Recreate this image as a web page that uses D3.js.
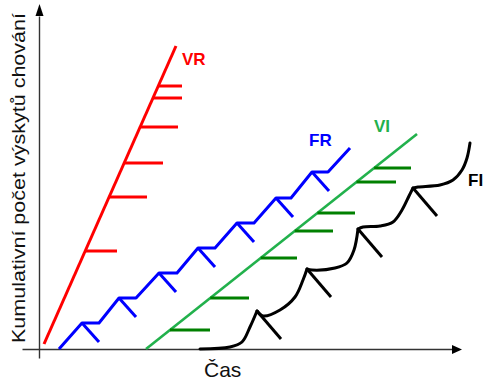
<!DOCTYPE html>
<html>
<head>
<meta charset="utf-8">
<script src="https://cdn.jsdelivr.net/npm/d3@7"></script>
<style>
  html, body { margin: 0; padding: 0; background: #fff; }
  svg { display: block; }
  text { font-family: "Liberation Sans", Arial, sans-serif; }
</style>
</head>
<body>
<script>
// ---- data (time units / cumulative responses) ----
const seriesNames = ["VR", "FR", "VI", "FI"];

// VR: steady steep line with irregular reinforcements
const vrTime = [4, 136];
const vrCount = [6, 304];
const vrReinfCount = [99, 153, 187, 223, 252, 264];
const vrReinfEnd = [77, 107, 123, 138, 142, 142];

// FR: run - pause staircase
const frStartTime = 19, frStartCount = 1;
const frPeakTime = [42, 79, 119, 158, 197, 236, 272];
const frPeakCount = [27, 52, 77, 102, 127, 152, 178];
const frPauseEnd = [59, 96, 137, 175, 214, 251, 288];
const frEndTime = 310, frEndCount = 202;

// VI: steady moderate line with irregular reinforcements
const viTime = [106, 377];
const viCount = [1, 216];
const viReinfCount = [20, 52, 92, 119, 137, 168, 182];
const viReinfEnd = [170, 209, 257, 293, 315, 356, 371];

// FI: scalloped curve
const fiTime  = [160, 190, 202, 210, 217, 223, 240, 255, 263, 267, 272, 295, 307, 314, 318, 323, 340, 353, 362, 369, 373, 378, 400, 413, 422, 427, 430];
const fiCount = [1, 3, 8, 23, 39, 34, 40, 53, 70, 81, 80, 82, 87, 100, 121, 123, 124, 128, 140, 154, 162, 163, 165, 170, 180, 192, 207];
const fiPeakIdx = [4, 9, 14, 20];

const W = 492, H = 383;
const svg = d3.select("body").append("svg").attr("width", W).attr("height", H);

const x = d3.scaleLinear().domain([0, 430]).range([40, 470]);
const y = d3.scaleLinear().domain([0, 345]).range([350, 5]);

const colors = { VR: "#ff0000", FR: "#0000ff", VI: "#22b14c", VItick: "#008000", FI: "#000000" };

// ---- axes ----
const axisColor = "#333";
const xAxisScale = x.copy().domain([-18, 414]).range([x(-18), x(414)]);
const yAxisScale = y.copy().domain([-8, 334]).range([y(-8), y(334)]);
const gx = svg.append("g").attr("transform", `translate(0,${y(0) - 1})`)
  .call(d3.axisBottom(xAxisScale).tickValues([]).tickSizeOuter(0));
const gy = svg.append("g").attr("transform", `translate(${x(0) - 1},0)`)
  .call(d3.axisLeft(yAxisScale).tickValues([]).tickSizeOuter(0));
[gx, gy].forEach(g => g.select(".domain").attr("stroke", axisColor).attr("stroke-width", 1.4));

// arrowheads
const ax0 = x(0) - 0.5, ay0 = y(0) - 0.5;
svg.append("path")
  .attr("d", `M${x(422)},${ay0} L${x(412)},${ay0 - 4.5} L${x(412)},${ay0 + 4.5} Z`)
  .attr("fill", "#000");
svg.append("path")
  .attr("d", `M${ax0},${y(346)} L${ax0 - 4},${y(334)} L${ax0 + 4},${y(334)} Z`)
  .attr("fill", "#000");

// axis titles
svg.append("text")
  .attr("transform", `translate(25,${(343 + 13) / 2}) rotate(-90)`)
  .attr("text-anchor", "middle")
  .attr("font-size", 19)
  .attr("textLength", 330)
  .attr("lengthAdjust", "spacingAndGlyphs")
  .attr("fill", "#111")
  .text("Kumulativní počet výskytů chování");
svg.append("text")
  .attr("x", 204).attr("y", 377)
  .attr("font-size", 21)
  .attr("fill", "#111")
  .text("Čas");

const line = d3.line().x(d => x(d[0])).y(d => y(d[1]));
const lw = 3;

// ---- VR ----
const vrAt = c => vrTime[0] + (c - vrCount[0]) * (vrTime[1] - vrTime[0]) / (vrCount[1] - vrCount[0]);
svg.append("path").attr("d", line(vrTime.map((t, i) => [t, vrCount[i]])))
  .attr("fill", "none").attr("stroke", colors.VR).attr("stroke-width", lw);
svg.selectAll(".vrt").data(vrReinfCount).enter().append("line")
  .attr("x1", c => x(vrAt(c))).attr("x2", (c, i) => x(vrReinfEnd[i]))
  .attr("y1", c => y(c)).attr("y2", c => y(c))
  .attr("stroke", colors.VR).attr("stroke-width", lw);

// ---- VI ----
const viAt = c => viTime[0] + (c - viCount[0]) * (viTime[1] - viTime[0]) / (viCount[1] - viCount[0]);
svg.append("path").attr("d", line(viTime.map((t, i) => [t, viCount[i]])))
  .attr("fill", "none").attr("stroke", colors.VI).attr("stroke-width", 2.6);
svg.selectAll(".vit").data(viReinfCount).enter().append("line")
  .attr("x1", c => x(viAt(c))).attr("x2", (c, i) => x(viReinfEnd[i]))
  .attr("y1", c => y(c)).attr("y2", c => y(c))
  .attr("stroke", colors.VItick).attr("stroke-width", lw);

// ---- FR ----
const frPts = [[frStartTime, frStartCount]];
frPeakTime.forEach((t, i) => { frPts.push([t, frPeakCount[i]]); frPts.push([frPauseEnd[i], frPeakCount[i]]); });
frPts.push([frEndTime, frEndCount]);
svg.append("path").attr("d", line(frPts))
  .attr("fill", "none").attr("stroke", colors.FR).attr("stroke-width", lw)
  .attr("stroke-linejoin", "round");
svg.selectAll(".frm").data(frPeakTime).enter().append("line")
  .attr("x1", t => x(t)).attr("y1", (t, i) => y(frPeakCount[i]))
  .attr("x2", t => x(t + 17)).attr("y2", (t, i) => y(frPeakCount[i] - 19))
  .attr("stroke", colors.FR).attr("stroke-width", lw);

// ---- FI ----
const fiPts = fiTime.map((t, i) => [t, fiCount[i]]);
const cuts = [0, ...fiPeakIdx, fiPts.length - 1];
const fiLine = d3.line().x(d => x(d[0])).y(d => y(d[1])).curve(d3.curveCatmullRom.alpha(0.5));
for (let k = 0; k < cuts.length - 1; k++) {
  svg.append("path").attr("d", fiLine(fiPts.slice(cuts[k], cuts[k + 1] + 1)))
    .attr("fill", "none").attr("stroke", colors.FI).attr("stroke-width", lw)
    .attr("stroke-linejoin", "round").attr("stroke-linecap", "round");
}
svg.selectAll(".fim").data(fiPeakIdx).enter().append("line")
  .attr("x1", i => x(fiTime[i])).attr("y1", i => y(fiCount[i]))
  .attr("x2", i => x(fiTime[i] + 24)).attr("y2", i => y(fiCount[i] - 28))
  .attr("stroke", colors.FI).attr("stroke-width", lw);

// ---- series labels ----
const labelPos = { VR: [142, 285], FR: [269, 204], VI: [334, 218], FI: [428, 164] };
seriesNames.forEach(n => {
  svg.append("text")
    .attr("x", x(labelPos[n][0])).attr("y", y(labelPos[n][1]))
    .attr("font-size", 17).attr("font-weight", "bold")
    .attr("fill", colors[n])
    .text(n);
});
</script>
</body>
</html>
